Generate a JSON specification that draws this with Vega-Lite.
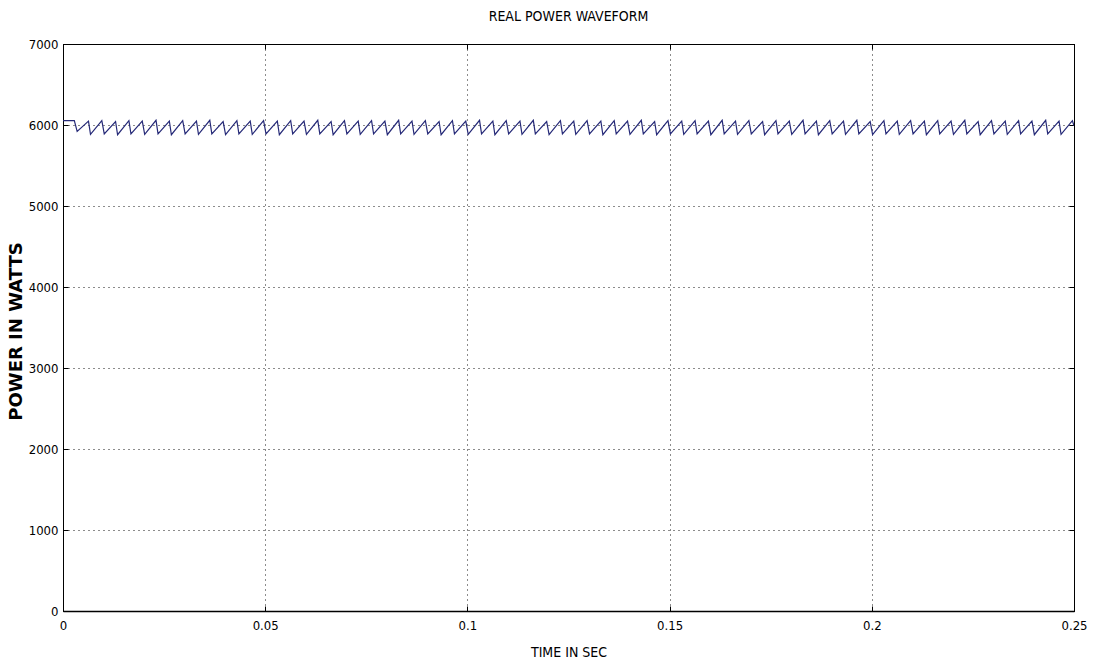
{
 "$schema": "https://vega.github.io/schema/vega-lite/v6.json",
 "width": 1011,
 "height": 567,
 "autosize": {"type": "none"},
 "padding": {"left": 63, "top": 44, "right": 21, "bottom": 55},
 "background": "white",
 "config": {"view": {"stroke": "black", "strokeWidth": 1}},
 "title": {"text": "REAL POWER WAVEFORM", "font": "DejaVu Sans Condensed, Liberation Sans Narrow, Liberation Sans, sans-serif", "fontSize": 14, "fontWeight": "normal", "color": "black", "anchor": "middle", "offset": 14},
 "data": {"values": [
  {"t":0,"p":6055},{"t":0.0028,"p":6055},{"t":0.0035,"p":5920},
  {"t":0.0063,"p":6048},{"t":0.0068,"p":5885},{"t":0.0096,"p":6053},{"t":0.0102,"p":5890},{"t":0.0130,"p":6043},
  {"t":0.0135,"p":5880},{"t":0.0163,"p":6053},{"t":0.0168,"p":5890},{"t":0.0196,"p":6048},{"t":0.0202,"p":5885},{"t":0.0230,"p":6058},
  {"t":0.0235,"p":5890},{"t":0.0263,"p":6048},{"t":0.0268,"p":5880},{"t":0.0296,"p":6053},{"t":0.0302,"p":5890},{"t":0.0330,"p":6048},
  {"t":0.0335,"p":5885},{"t":0.0363,"p":6058},{"t":0.0368,"p":5890},{"t":0.0396,"p":6043},{"t":0.0402,"p":5880},{"t":0.0430,"p":6053},
  {"t":0.0435,"p":5890},{"t":0.0463,"p":6048},{"t":0.0468,"p":5885},{"t":0.0496,"p":6053},{"t":0.0502,"p":5890},{"t":0.0530,"p":6048},
  {"t":0.0535,"p":5880},{"t":0.0563,"p":6053},{"t":0.0568,"p":5890},{"t":0.0596,"p":6048},{"t":0.0602,"p":5885},{"t":0.0630,"p":6058},
  {"t":0.0635,"p":5890},{"t":0.0663,"p":6043},{"t":0.0668,"p":5880},{"t":0.0696,"p":6053},{"t":0.0702,"p":5890},{"t":0.0730,"p":6048},
  {"t":0.0735,"p":5885},{"t":0.0763,"p":6053},{"t":0.0768,"p":5890},{"t":0.0796,"p":6048},{"t":0.0802,"p":5880},{"t":0.0830,"p":6058},
  {"t":0.0835,"p":5890},{"t":0.0863,"p":6048},{"t":0.0868,"p":5885},{"t":0.0896,"p":6053},{"t":0.0902,"p":5890},{"t":0.0930,"p":6043},
  {"t":0.0935,"p":5880},{"t":0.0963,"p":6053},{"t":0.0968,"p":5890},{"t":0.0996,"p":6048},{"t":0.1002,"p":5885},{"t":0.1030,"p":6058},
  {"t":0.1035,"p":5890},{"t":0.1063,"p":6048},{"t":0.1068,"p":5880},{"t":0.1096,"p":6053},{"t":0.1102,"p":5890},{"t":0.1130,"p":6048},
  {"t":0.1135,"p":5885},{"t":0.1163,"p":6058},{"t":0.1168,"p":5890},{"t":0.1196,"p":6043},{"t":0.1202,"p":5880},{"t":0.1230,"p":6053},
  {"t":0.1235,"p":5890},{"t":0.1263,"p":6048},{"t":0.1268,"p":5885},{"t":0.1296,"p":6053},{"t":0.1302,"p":5890},{"t":0.1330,"p":6048},
  {"t":0.1335,"p":5880},{"t":0.1363,"p":6053},{"t":0.1368,"p":5890},{"t":0.1396,"p":6048},{"t":0.1402,"p":5885},{"t":0.1430,"p":6058},
  {"t":0.1435,"p":5890},{"t":0.1463,"p":6043},{"t":0.1468,"p":5880},{"t":0.1496,"p":6053},{"t":0.1502,"p":5890},{"t":0.1530,"p":6048},
  {"t":0.1535,"p":5885},{"t":0.1563,"p":6053},{"t":0.1568,"p":5890},{"t":0.1596,"p":6048},{"t":0.1602,"p":5880},{"t":0.1630,"p":6058},
  {"t":0.1635,"p":5890},{"t":0.1663,"p":6048},{"t":0.1668,"p":5885},{"t":0.1696,"p":6053},{"t":0.1702,"p":5890},{"t":0.1730,"p":6043},
  {"t":0.1735,"p":5880},{"t":0.1763,"p":6053},{"t":0.1768,"p":5890},{"t":0.1796,"p":6048},{"t":0.1802,"p":5885},{"t":0.1830,"p":6058},
  {"t":0.1835,"p":5890},{"t":0.1863,"p":6048},{"t":0.1868,"p":5880},{"t":0.1896,"p":6053},{"t":0.1902,"p":5890},{"t":0.1930,"p":6048},
  {"t":0.1935,"p":5885},{"t":0.1963,"p":6058},{"t":0.1968,"p":5890},{"t":0.1996,"p":6043},{"t":0.2002,"p":5880},{"t":0.2030,"p":6053},
  {"t":0.2035,"p":5890},{"t":0.2063,"p":6048},{"t":0.2068,"p":5885},{"t":0.2096,"p":6053},{"t":0.2102,"p":5890},{"t":0.2130,"p":6048},
  {"t":0.2135,"p":5880},{"t":0.2163,"p":6053},{"t":0.2168,"p":5890},{"t":0.2196,"p":6048},{"t":0.2202,"p":5885},{"t":0.2230,"p":6058},
  {"t":0.2235,"p":5890},{"t":0.2263,"p":6043},{"t":0.2268,"p":5880},{"t":0.2296,"p":6053},{"t":0.2302,"p":5890},{"t":0.2330,"p":6048},
  {"t":0.2335,"p":5885},{"t":0.2363,"p":6053},{"t":0.2368,"p":5890},{"t":0.2396,"p":6048},{"t":0.2402,"p":5880},{"t":0.2430,"p":6058},
  {"t":0.2435,"p":5890},{"t":0.2463,"p":6048},{"t":0.2468,"p":5885},{"t":0.2496,"p":6053},{"t":0.2500,"p":5990}
 ]},
 "layer": [
  {
   "mark": {"type": "line", "color": "#262a78", "strokeWidth": 1.2, "clip": true},
   "encoding": {
    "x": {"field": "t", "type": "quantitative",
     "scale": {"domain": [0, 0.25], "nice": false, "zero": false},
     "axis": {"orient": "bottom", "values": [0, 0.05, 0.1, 0.15, 0.2, 0.25], "format": "~g",
      "title": "TIME IN SEC", "titleFont": "DejaVu Sans Condensed, Liberation Sans Narrow, Liberation Sans, sans-serif", "titleFontSize": 14, "titleFontWeight": "normal", "titleColor": "black",
      "titleBaseline": "alphabetic", "titleY": 45,
      "labelFont": "DejaVu Sans Condensed, Liberation Sans Narrow, Liberation Sans, sans-serif", "labelFontSize": 13, "labelColor": "black", "labelPadding": 13, "labelFlush": false,
      "domain": true, "domainColor": "black", "domainWidth": 1.5,
      "ticks": true, "tickSize": -5, "tickColor": "black",
      "grid": true, "gridColor": "black", "gridDash": [1, 4], "gridOpacity": 0.9, "gridWidth": 1}},
    "y": {"field": "p", "type": "quantitative",
     "scale": {"domain": [0, 7000], "nice": false, "zero": true},
     "axis": {"orient": "left", "values": [0, 1000, 2000, 3000, 4000, 5000, 6000, 7000], "format": "d",
      "title": "POWER IN WATTS", "titleFont": "DejaVu Sans", "titleFontSize": 18, "titleFontWeight": "bold", "titleColor": "black",
      "titleAnchor": "middle", "titleBaseline": "bottom", "titleX": -38, "titleY": 287, "titleAngle": -90,
      "labelFont": "DejaVu Sans Condensed, Liberation Sans Narrow, Liberation Sans, sans-serif", "labelFontSize": 13, "labelColor": "black", "labelPadding": 10, "labelFlush": false,
      "domain": true, "domainColor": "black", "domainWidth": 1,
      "ticks": true, "tickSize": -5, "tickColor": "black",
      "grid": true, "gridColor": "black", "gridDash": [1, 4], "gridOpacity": 0.9, "gridWidth": 1}}
   }
  },
  {
   "mark": {"type": "line", "opacity": 0},
   "encoding": {
    "x": {"field": "t", "type": "quantitative",
     "axis": {"orient": "top", "values": [0, 0.05, 0.1, 0.15, 0.2, 0.25], "labels": false, "title": null, "grid": false,
      "domainColor": "black", "tickColor": "black", "tickSize": -5}},
    "y": {"field": "p", "type": "quantitative",
     "axis": {"orient": "right", "values": [0, 1000, 2000, 3000, 4000, 5000, 6000, 7000], "labels": false, "title": null, "grid": false,
      "domainColor": "black", "tickColor": "black", "tickSize": -5}}
   }
  }
 ],
 "resolve": {"axis": {"x": "independent", "y": "independent"}}
}
